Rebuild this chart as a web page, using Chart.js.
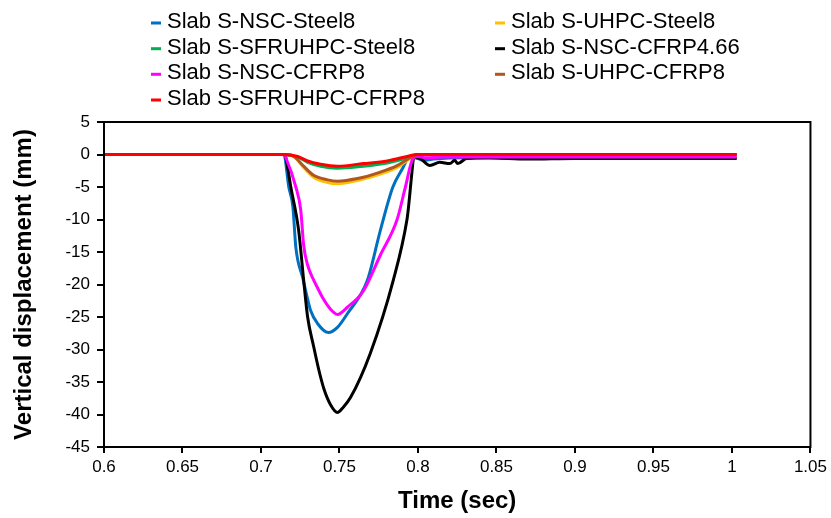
<!DOCTYPE html>
<html>
<head>
<meta charset="utf-8">
<script src="https://cdn.jsdelivr.net/npm/chart.js@4.4.1/dist/chart.umd.min.js"></script>
<style>
  html, body { margin: 0; padding: 0; background: #fff; }
  #wrap { width: 831px; height: 518px; position: relative; }
</style>
</head>
<body>
<div id="wrap"><canvas id="chart"></canvas></div>
<script>
// series names, legend order
var seriesNames = [
    'Slab S-NSC-Steel8',
    'Slab S-UHPC-Steel8',
    'Slab S-SFRUHPC-Steel8',
    'Slab S-NSC-CFRP4.66',
    'Slab S-NSC-CFRP8',
    'Slab S-UHPC-CFRP8',
    'Slab S-SFRUHPC-CFRP8'
];
var seriesColors = ['#0070C0', '#FFC000', '#00B050', '#000000', '#FF00FF', '#B0561E', '#FF0000'];

// time (sec) / vertical displacement (mm)
var nscSteelT = [0.6, 0.71, 0.7146, 0.7177, 0.7203, 0.7222, 0.7266, 0.7285, 0.7316, 0.736, 0.743, 0.7487, 0.755, 0.7677, 0.776, 0.784, 0.7905, 0.793, 0.797, 0.8, 0.803, 0.81, 0.83, 0.87, 0.95, 1.003];
var nscSteelD = [0, 0, 0, -5, -8, -14.3, -19, -21, -24, -26, -27.4, -26.6, -24.5, -19.4, -11.7, -5, -2, -0.8, -0.3, -0.6, -0.9, -0.7, -0.5, -0.6, -0.5, -0.5];

var uhpcSteelT = [0.6, 0.71, 0.7146, 0.7209, 0.7272, 0.7335, 0.7424, 0.7487, 0.7614, 0.776, 0.7867, 0.7949, 0.7994, 0.81, 0.9, 1.003];
var uhpcSteelD = [0, 0, 0, -0.3, -2, -3.5, -4.3, -4.5, -4, -3, -2, -0.6, 0, -0.1, -0.1, -0.1];

var sfrSteelT = [0.6, 0.71, 0.7146, 0.7234, 0.7297, 0.738, 0.7487, 0.7652, 0.7804, 0.7949, 0.7994, 0.9, 1.003];
var sfrSteelD = [0, 0, 0, -0.4, -1.2, -1.8, -2.1, -1.8, -1.3, -0.4, 0, 0, 0];

var nscCfrp466T = [0.6, 0.71, 0.7146, 0.7158, 0.719, 0.724, 0.7272, 0.7297, 0.7335, 0.7367, 0.74, 0.7443, 0.7487, 0.752, 0.757, 0.7696, 0.7842, 0.793, 0.798, 0.8013, 0.8076, 0.8139, 0.8203, 0.8234, 0.8253, 0.831, 0.845, 0.87, 0.9, 0.95, 1.003];
var nscCfrp466D = [0, 0, 0, -0.5, -5, -11.7, -19.4, -25, -29.5, -33, -36, -38.5, -39.7, -39, -37.4, -30.6, -19.4, -10, -0.5, -0.6, -1.7, -1.2, -1.4, -0.9, -1.4, -0.6, -0.5, -0.7, -0.6, -0.6, -0.6];

var nscCfrpT = [0.6, 0.71, 0.7146, 0.7158, 0.7222, 0.7253, 0.7272, 0.7297, 0.7335, 0.736, 0.7392, 0.7443, 0.7487, 0.755, 0.7652, 0.776, 0.7867, 0.792, 0.7968, 0.8, 0.805, 0.815, 0.84, 0.9, 1.003];
var nscCfrpD = [0, 0, 0, -0.5, -5, -8.5, -14, -17, -19.3, -20.5, -22, -23.8, -24.6, -23.5, -21, -15.5, -10, -5, -0.6, -0.3, -0.5, -0.4, -0.4, -0.4, -0.4];

var uhpcCfrpT = [0.6, 0.71, 0.7146, 0.7209, 0.7272, 0.7335, 0.7424, 0.7487, 0.7614, 0.776, 0.7867, 0.7949, 0.7994, 0.81, 0.9, 1.003];
var uhpcCfrpD = [0, 0, 0, -0.3, -1.8, -3.2, -3.9, -4.1, -3.7, -2.7, -1.7, -0.5, 0, 0, 0, 0];

var sfrCfrpT = [0.6, 0.71, 0.7146, 0.7234, 0.7297, 0.738, 0.7487, 0.7652, 0.7804, 0.7949, 0.7994, 0.9, 1.003];
var sfrCfrpD = [0, 0, 0, -0.3, -1, -1.5, -1.8, -1.4, -1, -0.2, 0, 0, 0];

var seriesT = [nscSteelT, uhpcSteelT, sfrSteelT, nscCfrp466T, nscCfrpT, uhpcCfrpT, sfrCfrpT];
var seriesD = [nscSteelD, uhpcSteelD, sfrSteelD, nscCfrp466D, nscCfrpD, uhpcCfrpD, sfrCfrpD];

// axis ranges / tick steps
var xMin = 0.6, xMax = 1.05, xStep = 0.05;
var yMin = -45, yMax = 5, yStep = 5;

function toPoints(ts, ds) {
    return ts.map(function(t, i) { return { x: t, y: ds[i] }; });
}

var datasets = seriesNames.map(function(name, i) {
    return {
        label: name,
        data: toPoints(seriesT[i], seriesD[i]),
        borderColor: seriesColors[i],
        backgroundColor: seriesColors[i],
        borderWidth: 3,
        pointRadius: 0,
        cubicInterpolationMode: 'monotone',
        // later series drawn on top, like the spreadsheet
        order: seriesNames.length - 1 - i
    };
});

// two column legend at the top
var columnLegend = {
    id: 'columnLegend',
    afterDraw: function(chart) {
        var ctx = chart.ctx;
        var colX = [151, 495];
        var rowY = [21, 46.7, 72.3, 98];
        ctx.save();
        ctx.font = '22px "Liberation Sans", Arial, sans-serif';
        ctx.textBaseline = 'middle';
        ctx.textAlign = 'left';
        chart.data.datasets.forEach(function(ds, i) {
            var x = colX[i % 2];
            var y = rowY[Math.floor(i / 2)];
            ctx.fillStyle = ds.borderColor;
            ctx.fillRect(x, y + 0.5, 10, 3);
            ctx.fillStyle = '#000';
            ctx.fillText(ds.label, x + 16, y + 1);
        });
        ctx.restore();
    }
};

// box round the plot area
var plotFrame = {
    id: 'plotFrame',
    afterDatasetsDraw: function(chart) {
        var a = chart.chartArea;
        var ctx = chart.ctx;
        ctx.save();
        ctx.strokeStyle = '#000';
        ctx.lineWidth = 2;
        ctx.strokeRect(a.left, a.top, a.right - a.left, a.bottom - a.top);
        ctx.restore();
    }
};

var tickFont = { family: '"Liberation Sans", Arial, sans-serif', size: 17 };
var titleFont = { family: '"Liberation Sans", Arial, sans-serif', size: 24, weight: 'bold' };

new Chart(document.getElementById('chart'), {
    type: 'line',
    data: { datasets: datasets },
    plugins: [columnLegend, plotFrame],
    options: {
        responsive: true,
        maintainAspectRatio: false,
        animation: false,
        layout: { padding: { top: 122, right: 18, bottom: 2, left: 4 } },
        plugins: {
            legend: { display: false },
            tooltip: { enabled: false }
        },
        scales: {
            x: {
                type: 'linear',
                min: xMin,
                max: xMax,
                ticks: {
                    stepSize: xStep,
                    color: '#000',
                    font: tickFont,
                    padding: 4,
                    maxRotation: 0,
                    callback: function(v) { return String(Math.round(v * 100) / 100); }
                },
                grid: { drawOnChartArea: false, drawTicks: true, tickLength: 6, color: '#000', lineWidth: 2 },
                border: { display: true, color: '#000', width: 2 },
                title: { display: true, text: 'Time (sec)', color: '#000', font: titleFont, padding: { top: 4, bottom: 0 } },
                afterFit: function(scale) { scale.height = 69; }
            },
            y: {
                min: yMin,
                max: yMax,
                ticks: { stepSize: yStep, color: '#000', font: tickFont, padding: 7 },
                grid: { drawOnChartArea: false, drawTicks: true, tickLength: 7, color: '#000', lineWidth: 2 },
                border: { display: true, color: '#000', width: 2 },
                title: { display: true, text: 'Vertical displacement (mm)', color: '#000', font: titleFont, padding: { top: 6, bottom: 0 } },
                afterFit: function(scale) { scale.width = 100; }
            }
        }
    }
});
</script>
</body>
</html>
